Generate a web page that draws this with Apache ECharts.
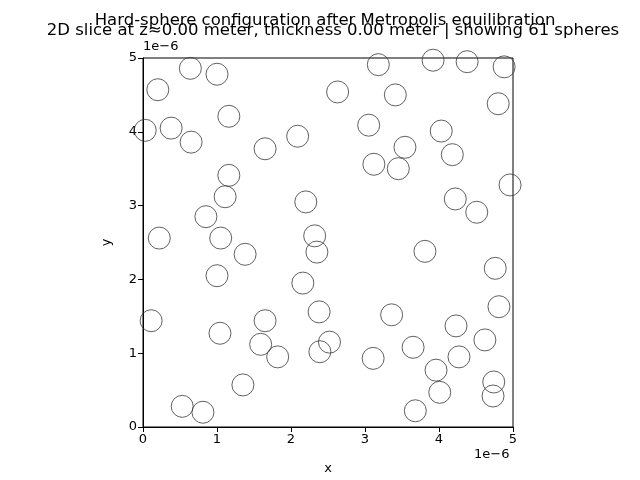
<!DOCTYPE html>
<html>
<head>
<meta charset="utf-8">
<script src="https://cdn.jsdelivr.net/npm/echarts@6/dist/echarts.min.js"></script>
<style>html,body{margin:0;padding:0;background:#fff}#chart{width:640px;height:480px}</style>
</head>
<body>
<div id="chart"></div>
<script>
// sphere centres, in units of 1e-6 m
var xs = [0.20,0.64,1.00,0.03,0.38,0.65,1.16,1.65,2.09,2.63,3.18,3.41,3.92,4.38,4.88,4.80,3.05,3.54,4.03,4.18,
  3.12,3.45,1.16,1.11,0.85,2.20,4.22,4.51,4.96,0.22,1.05,1.38,1.00,2.32,2.35,2.16,3.81,4.76,4.81,0.11,
  1.04,1.65,1.59,1.82,2.38,2.52,2.39,3.36,3.11,3.65,4.23,4.62,4.27,3.96,4.74,4.73,4.01,3.68,1.35,0.53,0.81];
var ys = [4.57,4.86,4.78,4.02,4.05,3.86,4.21,3.77,3.94,4.54,4.91,4.50,4.97,4.95,4.88,4.38,4.09,3.79,4.01,3.69,
  3.56,3.50,3.41,3.12,2.85,3.05,3.09,2.91,3.28,2.56,2.56,2.34,2.05,2.59,2.37,1.95,2.38,2.15,1.63,1.44,
  1.27,1.44,1.12,0.95,1.56,1.15,1.02,1.52,0.93,1.08,1.37,1.18,0.95,0.77,0.61,0.42,0.47,0.22,0.57,0.28,0.20];

var chart = echarts.init(document.getElementById("chart"));
var pts = xs.map(function(x,i){ return [x, ys[i]]; });
var txt = {color:'#000', fontFamily:'DejaVu Sans', fontSize:13};
var ttl = {fontFamily:'DejaVu Sans', fontSize:16.5, fontWeight:'normal', color:'#000'};

chart.setOption({
  animation: false,
  grid: {left:143, right:127, top:58, bottom:53, show:true, borderColor:'#000', borderWidth:1},
  title: [
    {text:'Hard-sphere configuration after Metropolis equilibration', left:320, top:7, textAlign:'center', textStyle:ttl},
    {text:'2D slice at z≈0.00 meter, thickness 0.00 meter | showing 61 spheres', left:328, top:17, textAlign:'center', textStyle:ttl}
  ],
  xAxis: {type:'value', min:0, max:5, interval:1, name:'x', nameLocation:'middle', nameGap:35, nameTextStyle:txt,
    axisLine:{lineStyle:{color:'#000'}}, axisTick:{length:5, lineStyle:{color:'#000'}},
    axisLabel:Object.assign({margin:6}, txt), splitLine:{show:false}},
  yAxis: {type:'value', min:0, max:5, interval:1, name:'y', nameLocation:'middle', nameGap:30, nameTextStyle:txt,
    axisLine:{show:true, lineStyle:{color:'#000'}}, axisTick:{show:true, length:5, lineStyle:{color:'#000'}},
    axisLabel:Object.assign({margin:6}, txt), splitLine:{show:false}},
  graphic: [
    {type:'text', left:143, top:40, style:{text:'1e−6', font:'13px DejaVu Sans', fill:'#000'}},
    {type:'text', left:474, top:448, style:{text:'1e−6', font:'13px DejaVu Sans', fill:'#000'}}
  ],
  series: [{
    type:'scatter', data:pts, symbol:'circle', symbolSize:22, clip:true,
    itemStyle:{color:'rgba(0,0,0,0)', borderColor:'#3a3a3a', borderWidth:1}
  }]
});
</script>
</body>
</html>
